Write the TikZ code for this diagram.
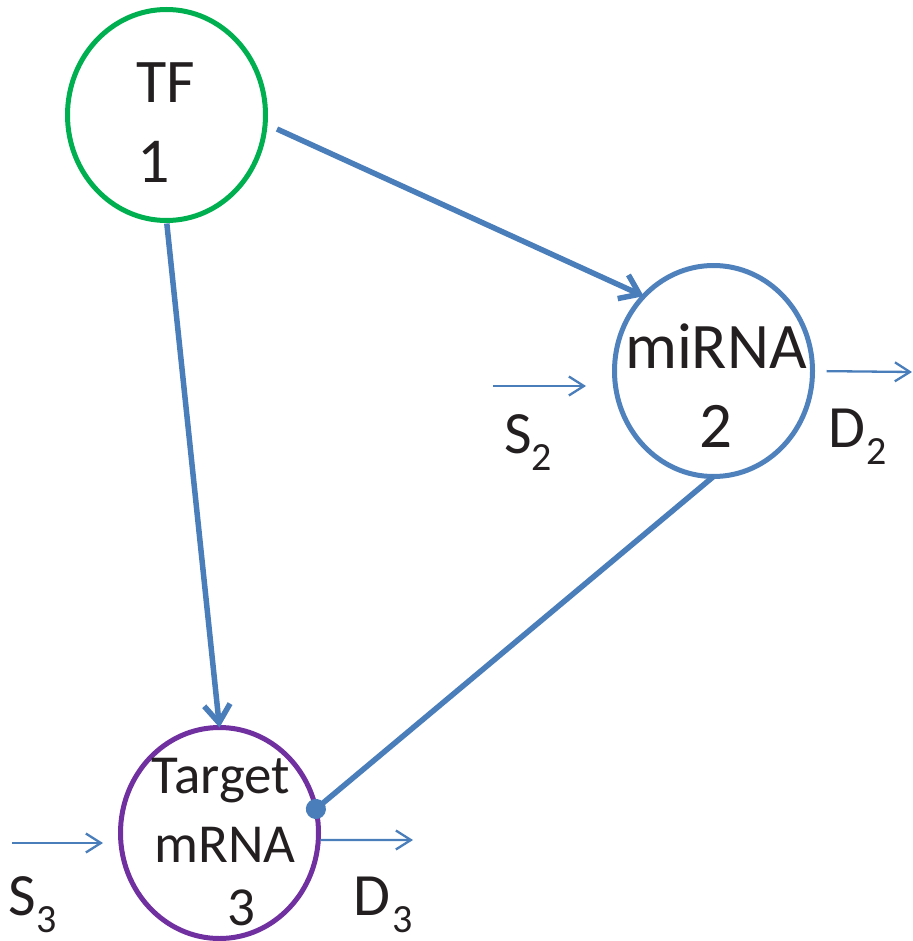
\documentclass[tikz,border=0pt]{standalone}
\usepackage{fontspec}
\setmainfont{Carlito}
\usetikzlibrary{shapes.geometric,arrows.meta}

\definecolor{linkblue}{RGB}{74,126,187}
\definecolor{tfgreen}{RGB}{0,176,80}
\definecolor{mirblue}{RGB}{79,129,189}
\definecolor{tgpurple}{RGB}{112,48,160}
\definecolor{inkgrey}{RGB}{35,31,32}

\newcommand{\subidx}[1]{\raisebox{-17pt}{\fontsize{40}{40}\selectfont #1}}

\begin{document}
\begin{tikzpicture}[x=1pt,y=-1pt,
  species/.style={ellipse, draw, line width=5pt, minimum width=198pt,
    minimum height=211pt, inner sep=0pt, outer sep=0pt},
  word/.style={inner sep=0pt, outer sep=0pt, text=inkgrey, anchor=base},
  rate/.style={inner sep=0pt, outer sep=0pt, text=inkgrey, anchor=base west,
    font=\fontsize{60}{60}\selectfont},
  link/.style={draw=linkblue, line width=5.5pt},
  bigtip/.style={-{Straight Barb[length=18pt,width=26pt]}},
  flow/.style={draw=linkblue, line width=2.3pt,
    -{Straight Barb[length=15pt,width=19pt]}}
]
\useasboundingbox (0,0) rectangle (912,941);

% species
\node[species, draw=tfgreen]   (tf) at (166.5,115) {};
\node[species, draw=mirblue]   (mi) at (713.5,371) {};
\node[species, draw=tgpurple]  (tg) at (219.5,833) {};

% species labels
\node[word, font=\fontsize{62}{62}\selectfont] (tfname) at (166,103) {TF};
\node[word, font=\fontsize{64}{64}\selectfont] (tfnum)  at (154,183) {1};
\node[word, font=\fontsize{65}{65}\selectfont] (miname) at (716,368) {miRNA};
\node[word, font=\fontsize{65}{65}\selectfont] (minum)  at (716,447) {2};
\node[word, font=\fontsize{55}{55}\selectfont] (tgname) at (221,793) {Target};
\node[word, font=\fontsize{55}{55}\selectfont] (tgkind) at (225,862) {mRNA};
\node[word, font=\fontsize{55}{55}\selectfont] (tgnum)  at (241,925) {3};

% regulatory links
\draw[link, bigtip, shorten <=13pt] (tf.-5) -- (mi.133);
\draw[link, bigtip, shorten <=3pt] (tf.south) -- (tg.north);
\draw[link, -{Circle[length=20pt]}, shorten >=-10pt] (mi.south) -- (tg.14);

% synthesis and degradation fluxes
\coordinate (s2a) at (493,386);
\coordinate (s2b) at (586,386);
\coordinate (d2b) at (912,372);
\coordinate (s3a) at (12,843);
\coordinate (s3b) at (103,843);
\coordinate (d3b) at (413,840);
\draw[flow] (s2a) -- (s2b);
\draw[flow, shorten <=14pt] (mi.east) -- (d2b);
\draw[flow] (s3a) -- (s3b);
\draw[flow, shorten <=2pt] (tg.-4) -- (d3b);

% flux labels
\node[rate] (s2lbl) at (504,453) {S\subidx{2}};
\node[rate] (d2lbl) at (828,447) {D\kern2pt\subidx{2}};
\node[rate] (s3lbl) at (9,915)   {S\subidx{3}};
\node[rate] (d3lbl) at (353,915) {D\kern3pt\subidx{3}};
\end{tikzpicture}
\end{document}
